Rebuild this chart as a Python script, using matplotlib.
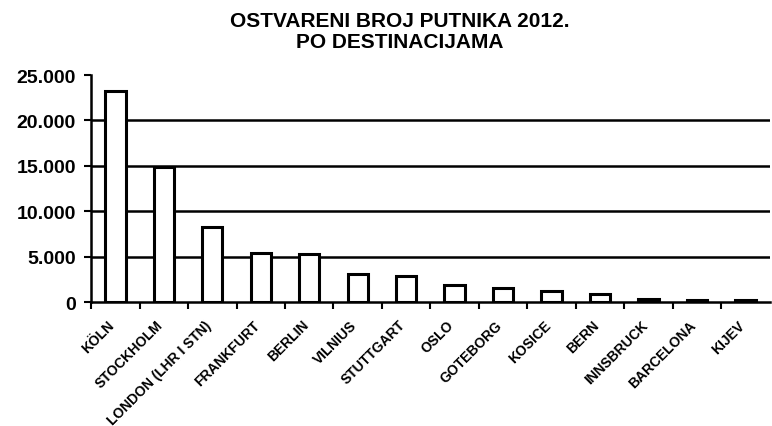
import matplotlib
matplotlib.use("Agg")
import matplotlib.pyplot as plt
from matplotlib.ticker import FuncFormatter
from matplotlib.transforms import ScaledTranslation

# podaci sa slike
destinacije = ["KÖLN", "STOCKHOLM", "LONDON (LHR I STN)", "FRANKFURT", "BERLIN",
               "VILNIUS", "STUTTGART", "OSLO", "GOTEBORG", "KOSICE", "BERN",
               "INNSBRUCK", "BARCELONA", "KIJEV"]
putnici = [23200, 14900, 8300, 5400, 5350, 3050, 2850, 1870, 1570, 1210, 850,
           400, 250, 220]
y_ticks = [0, 5000, 10000, 15000, 20000, 25000]

plt.rcParams['font.family'] = ['Liberation Sans', 'DejaVu Sans']
plt.rcParams['font.weight'] = 'bold'

fig = plt.figure(figsize=(7.72, 4.27), dpi=100)
ax = fig.add_axes([0.118, 0.290, 0.879, 0.532])

x = list(range(len(destinacije)))
ax.bar(x, putnici, width=0.42, color="white", edgecolor="black", linewidth=2.2,
       zorder=3)

ax.set_xlim(-0.5, len(destinacije) - 0.5)
ax.set_ylim(0, 25000)
ax.set_yticks(y_ticks)
ax.yaxis.set_major_formatter(FuncFormatter(lambda v, p: f"{int(v):,}".replace(",", ".")))

# horizontalne linije (bez gornje)
for v in y_ticks[1:-1]:
    ax.axhline(v, color="black", linewidth=1.8, zorder=1)

ax.set_xticks([i + 0.5 for i in x[:-1]] + [-0.5], minor=True)
ax.set_xticks(x)
ax.set_xticklabels(destinacije, rotation=45, ha="right", rotation_mode="anchor",
                   fontsize=10, fontweight="bold")
ax.tick_params(axis="x", which="major", length=0, pad=11)
ax.tick_params(axis="x", which="minor", length=5, width=1.5, direction="out")
ax.tick_params(axis="y", length=5, width=1.5, labelsize=14, pad=6)

# etikete malo ulijevo
pomak = ScaledTranslation(-8 / 100, 0, fig.dpi_scale_trans)
for lbl in ax.get_xticklabels():
    lbl.set_transform(lbl.get_transform() + pomak)

for s in ["top", "right"]:
    ax.spines[s].set_visible(False)
ax.spines["left"].set_linewidth(1.8)
ax.spines["bottom"].set_linewidth(1.8)

fig.text(0.518, 0.925, "OSTVARENI BROJ PUTNIKA 2012.\nPO DESTINACIJAMA",
         ha="center", va="center", fontsize=15, fontweight="bold", linespacing=1.15)

fig.savefig("out.png", dpi=100)
